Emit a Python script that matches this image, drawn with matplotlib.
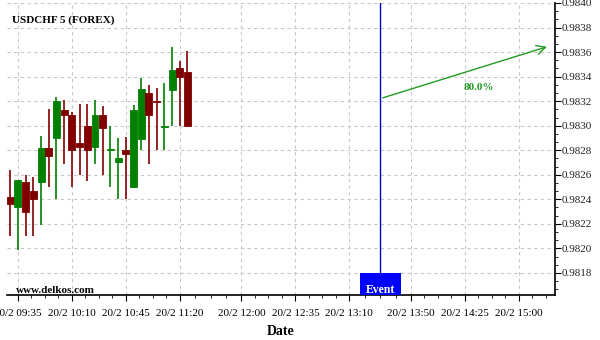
import numpy as np
import matplotlib
matplotlib.use('Agg')
import matplotlib.pyplot as plt
from matplotlib.ticker import MultipleLocator, FixedLocator, FormatStrFormatter

plt.rcParams['font.family'] = ['Liberation Serif', 'DejaVu Serif']

# 5 minute candles, USDCHF
times  = ['09:30','09:35','09:40','09:45','09:50','09:55','10:00','10:05',
          '10:10','10:15','10:20','10:25','10:30','10:35','10:40','10:45',
          '10:50','10:55','11:00','11:05','11:10','11:15','11:20','11:25']
opens  = [0.98242,0.98234,0.98254,0.98247,0.98254,0.98282,0.98290,0.98313,
          0.98309,0.98286,0.98300,0.98283,0.98309,0.98280,0.98270,0.98280,
          0.98250,0.98289,0.98327,0.98320,0.98299,0.98329,0.98347,0.98344]
highs  = [0.98264,0.98256,0.98260,0.98258,0.98292,0.98314,0.98323,0.98321,
          0.98311,0.98318,0.98318,0.98321,0.98316,0.98300,0.98290,0.98291,
          0.98317,0.98339,0.98333,0.98331,0.98335,0.98364,0.98353,0.98361]
lows   = [0.98210,0.98199,0.98210,0.98210,0.98219,0.98250,0.98240,0.98269,
          0.98250,0.98260,0.98255,0.98269,0.98260,0.98250,0.98240,0.98240,
          0.98249,0.98280,0.98269,0.98280,0.98280,0.98300,0.98300,0.98299]
closes = [0.98236,0.98256,0.98230,0.98240,0.98282,0.98275,0.98320,0.98309,
          0.98280,0.98283,0.98280,0.98309,0.98298,0.98281,0.98274,0.98277,
          0.98313,0.98330,0.98309,0.98319,0.98300,0.98345,0.98340,0.98300]

tick_times = ['09:35','10:10','10:45','11:20','12:00','12:35','13:10','13:50','14:25','15:00']
tick_date = '20/2'

event_time = '13:30'
arrow_start = ('13:30', 0.98322)
arrow_end = ('15:20', 0.98365)
prob_label = '80.0%'
prob_pos = ('14:34', 0.98331)

def tmin(s):
    h, m = s.split(':')
    return int(h) * 60 + float(m)

t = np.array([tmin(s) for s in times])
o = np.array(opens); h = np.array(highs); l = np.array(lows); c = np.array(closes)
up = c >= o

GREEN = '#008000'
RED = '#800000'

fig = plt.figure(figsize=(6, 3.4), dpi=100)
ax = fig.add_axes([7/600, 45/340, 548/600, 292/340])

cols = np.where(up, GREEN, RED)
ax.vlines(t, l, h, colors=cols, lw=1.2, zorder=3)
ax.bar(t, c - o, bottom=o, width=4.5, color=cols, edgecolor=cols, lw=0.6, zorder=4)

# event marker
ev = tmin(event_time)
ymin, ymax = 0.98162, 0.98400
ax.axvline(ev, color='#0000cc', lw=1.0, zorder=2)
ax.bar(ev, 0.98180 - ymin, bottom=ymin, width=26.6, color='#0000ff', zorder=5)
ax.text(ev, 0.98166, 'Event', color='white', fontsize=8.5, fontweight='bold',
        ha='center', va='center', zorder=6)

# forecast arrow
ax.annotate('', xy=(tmin(arrow_end[0]), arrow_end[1]),
            xytext=(tmin(arrow_start[0]), arrow_start[1]),
            arrowprops=dict(arrowstyle='->', color='#229922', lw=1.0, mutation_scale=16),
            zorder=6)
ax.text(tmin(prob_pos[0]), prob_pos[1], prob_label, color='#229922', fontsize=8,
        fontweight='bold', ha='center', va='center')

ax.set_xlim(tmin('09:35') - 7.1, tmin('15:23.5'))
ax.set_ylim(ymin, ymax)

# x ticks
tt = [tmin(s) for s in tick_times]
ax.xaxis.set_major_locator(FixedLocator(tt))
ax.set_xticklabels(['%s %s' % (tick_date, s) for s in tick_times], fontsize=8)
minor = []
for a, b in zip(tt[:-1], tt[1:]):
    minor += list(np.linspace(a, b, 5)[1:-1])
minor += [tt[0] - (tt[1] - tt[0]) / 4]
minor += [tt[-1] + k * (tt[-1] - tt[-2]) / 4 for k in (1, 2)]
ax.xaxis.set_minor_locator(FixedLocator(minor))

# y ticks on right
ax.yaxis.tick_right()
ax.yaxis.set_major_locator(MultipleLocator(0.0002))
ax.yaxis.set_minor_locator(MultipleLocator(0.0002 / 3))
ax.yaxis.set_major_formatter(FormatStrFormatter('%.4f'))
ax.tick_params(axis='y', labelsize=8, labelcolor='#222222', length=4, pad=1)
ax.tick_params(axis='x', length=4, pad=6)
ax.tick_params(which='minor', length=2.5)

for s in ['left', 'top']:
    ax.spines[s].set_visible(False)
ax.spines['bottom'].set_linewidth(1.2)
ax.spines['right'].set_linewidth(1.2)

ax.grid(True, which='major', color='#c8c8c8', ls=(0, (3, 3)), lw=0.8, zorder=0)
ax.set_axisbelow(True)

ax.text(0.009, 0.942, 'USDCHF 5 (FOREX)', transform=ax.transAxes, fontsize=8,
        fontweight='bold', ha='left', va='center')
ax.text(0.0164, 0.017, 'www.delkos.com', transform=ax.transAxes, fontsize=8,
        fontweight='bold', ha='left', va='center')
ax.set_xlabel('Date', fontsize=10, fontweight='bold', labelpad=5)

fig.savefig('out.png', dpi=100)
